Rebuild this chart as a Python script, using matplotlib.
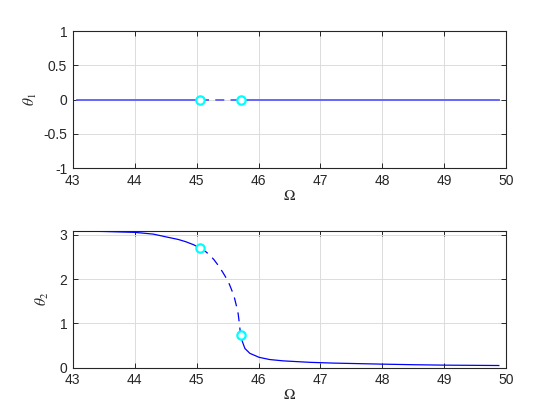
import numpy as np
import matplotlib
matplotlib.use("Agg")
import matplotlib.pyplot as plt

plt.rcParams['font.family'] = ['Liberation Sans', 'DejaVu Sans']
plt.rcParams['mathtext.fontset'] = 'stix'

# theta_1 branches (stays at zero)
t1_stable_a_x = [43.07, 45.06]
t1_stable_a_y = [0.0, 0.0]
t1_unstable_x = [45.06, 45.71]
t1_unstable_y = [0.0, 0.0]
t1_stable_b_x = [45.71, 49.88]
t1_stable_b_y = [0.0, 0.0]

# theta_2 branches
t2_stable_a_x = [43.07, 43.5, 44.0, 44.3, 44.53, 44.7, 44.82, 44.95, 45.06]
t2_stable_a_y = [3.09, 3.08, 3.06, 3.02, 2.95, 2.90, 2.85, 2.78, 2.70]
t2_unstable_x = [45.06, 45.14, 45.21, 45.28, 45.35, 45.42, 45.48, 45.53, 45.57, 45.61, 45.64, 45.67, 45.69, 45.71]
t2_unstable_y = [2.70, 2.63, 2.55, 2.44, 2.31, 2.16, 2.02, 1.88, 1.74, 1.58, 1.41, 1.22, 1.00, 0.73]
t2_stable_b_x = [45.71, 45.74, 45.78, 45.86, 46.01, 46.18, 46.40, 46.83, 47.2, 47.6, 48.0, 48.5, 49.03, 49.88]
t2_stable_b_y = [0.73, 0.58, 0.43, 0.32, 0.23, 0.18, 0.15, 0.117, 0.10, 0.088, 0.076, 0.063, 0.053, 0.045]

# bifurcation points
bif_x = [45.06, 45.71]
bif_t1 = [0.0, 0.0]
bif_t2 = [2.70, 0.73]

xticks = [43, 44, 45, 46, 47, 48, 49, 50]

fig = plt.figure(figsize=(5.6, 4.2), dpi=100)
ax1 = fig.add_axes([0.130, 0.600, 0.774, 0.326])
ax2 = fig.add_axes([0.130, 0.125, 0.774, 0.326])


def draw(ax, sa_x, sa_y, u_x, u_y, sb_x, sb_y, bx, by, lw, col):
    ax.plot(sa_x, sa_y, color=col, lw=lw, zorder=3)
    ax.plot(u_x, u_y, color=col, lw=lw, dashes=(6.5 / lw, 4.5 / lw), zorder=3)
    ax.plot(sb_x, sb_y, color=col, lw=lw, zorder=3)
    ax.plot(bx, by, 'o', ms=6, mfc='white', mec='cyan', mew=1.6, zorder=4, clip_on=False)


draw(ax1, t1_stable_a_x, t1_stable_a_y, t1_unstable_x, t1_unstable_y,
     t1_stable_b_x, t1_stable_b_y, bif_x, bif_t1, 1.3, '#5c5cff')
draw(ax2, t2_stable_a_x, t2_stable_a_y, t2_unstable_x, t2_unstable_y,
     t2_stable_b_x, t2_stable_b_y, bif_x, bif_t2, 0.9, 'blue')

ax1.set_ylim(-1, 1)
ax1.set_yticks([-1, -0.5, 0, 0.5, 1])
ax1.set_yticklabels(['-1', '-0.5', '0', '0.5', '1'])
ax2.set_ylim(0, 3.1)
ax2.set_yticks([0, 1, 2, 3])

for ax, lab, pad in [(ax1, r'$\theta_1$', 3), (ax2, r'$\theta_2$', 6)]:
    ax.set_xlim(43, 50)
    ax.set_xticks(xticks)
    ax.grid(True, color='#dcdcdc', lw=0.7)
    ax.set_axisbelow(True)
    ax.tick_params(direction='in', top=True, right=True, length=3.5,
                   width=0.7, labelsize=10, colors='#262626', pad=4)
    for s in ax.spines.values():
        s.set_color('#262626')
        s.set_linewidth(0.8)
    ax.set_xlabel(r'$\Omega$', fontsize=11, labelpad=1, color='#262626')
    ax.set_ylabel(lab, fontsize=11, labelpad=pad, color='#262626')

fig.savefig('out.png', dpi=100)
